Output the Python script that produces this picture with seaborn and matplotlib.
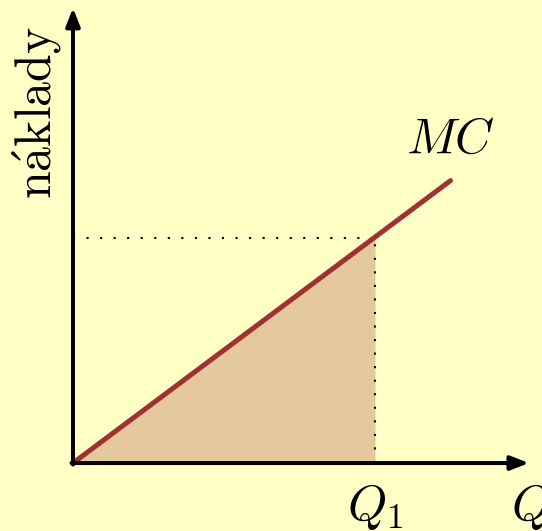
import numpy as np
import pandas as pd
import seaborn as sns
import matplotlib.pyplot as plt

# marginal cost line (quantity, cost)
mc_q = [0.0, 12.5]
mc_cost = [0.0, 9.35]
q1 = 10.0
q1_cost = 7.45
axis_max_q = 15.1
axis_max_cost = 15.07

bg_color = "#FFFFC6"
mc_color = "#9E3232"
fill_color = "#E5C99C"

sns.set_theme(style="white")
plt.rcParams["mathtext.fontset"] = "cm"

fig = plt.figure(figsize=(5.42, 5.31), dpi=100, facecolor=bg_color)
ax = fig.add_axes([0, 0, 1, 1])
ax.set_facecolor(bg_color)
ax.set_xlim(-2.417, 15.53)
ax.set_ylim(-2.25, 15.33)
ax.axis("off")

# area under MC up to Q1
ax.fill_between([0, q1], [0, 0], [0, q1_cost], color=fill_color, lw=0, zorder=1)

# dotted guides
ax.plot([0, q1], [q1_cost, q1_cost], color="black", lw=1.5,
        linestyle=(0, (1, 5.5)), zorder=2)
ax.plot([q1, q1], [0, q1_cost], color="black", lw=1.5,
        linestyle=(0, (1, 5.5)), zorder=2)

df = pd.DataFrame({"Q": mc_q, "cost": mc_cost})
sns.lineplot(data=df, x="Q", y="cost", ax=ax, color=mc_color, lw=3.6,
             solid_capstyle="round", zorder=3)
ax.axis("off")

# axes with arrows
arrow = dict(arrowstyle="-|>,head_length=0.9,head_width=0.35", color="black",
             lw=2.9, shrinkA=0, shrinkB=0)
ax.annotate("", xy=(axis_max_q, 0), xytext=(-0.05, 0), arrowprops=arrow, zorder=4)
ax.annotate("", xy=(0, axis_max_cost), xytext=(0, -0.05), arrowprops=arrow, zorder=4)

ax.text(-1.2, 11.6, r"$\mathrm{n\acute{a}klady}$", rotation=90, fontsize=36,
        ha="center", va="center", color="black")
ax.text(12.5, 10.75, r"$MC$", fontsize=36, ha="center", va="center", color="black")
ax.text(q1, -1.45, r"$Q_1$", fontsize=36, ha="center", va="center", color="black")
ax.text(15.15, -1.45, r"$Q$", fontsize=36, ha="center", va="center", color="black")

fig.savefig("out.png", dpi=100, facecolor=bg_color)
